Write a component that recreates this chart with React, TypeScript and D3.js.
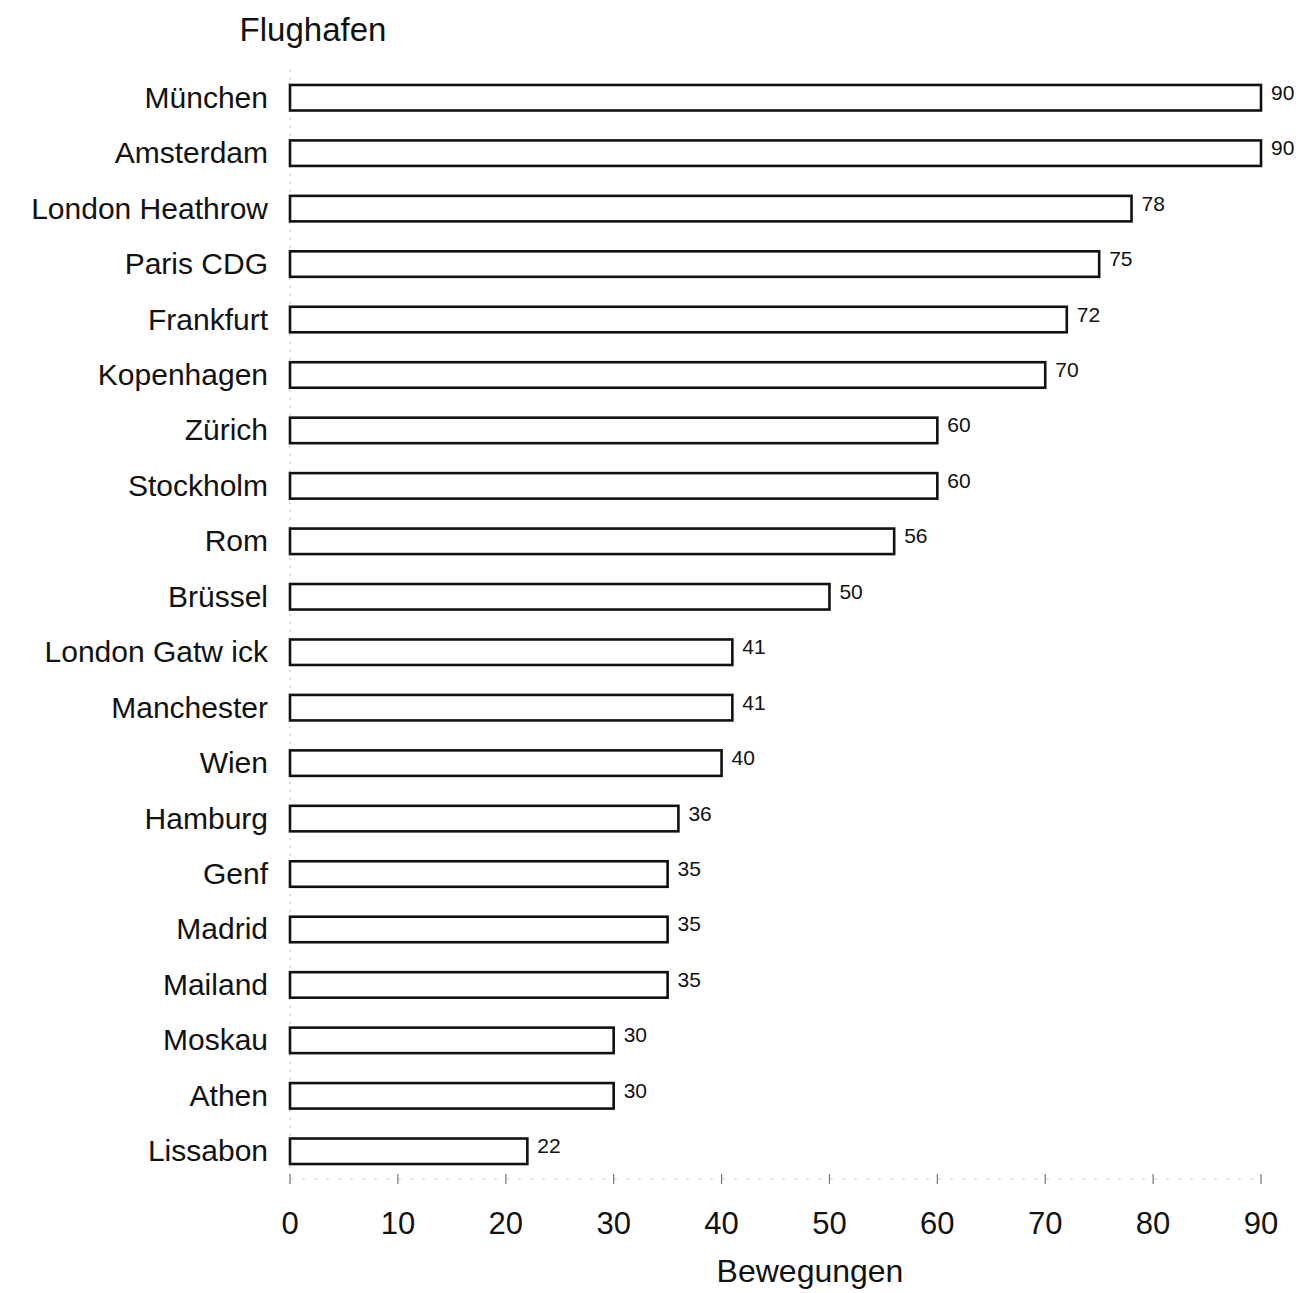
import { useEffect, useRef } from 'react';
import * as d3 from 'd3';

const airports = [
  'München', 'Amsterdam', 'London Heathrow', 'Paris CDG', 'Frankfurt', 'Kopenhagen',
  'Zürich', 'Stockholm', 'Rom', 'Brüssel', 'London Gatw ick', 'Manchester', 'Wien',
  'Hamburg', 'Genf', 'Madrid', 'Mailand', 'Moskau', 'Athen', 'Lissabon',
];
const movements = [90, 90, 78, 75, 72, 70, 60, 60, 56, 50, 41, 41, 40, 36, 35, 35, 35, 30, 30, 22];
const xTicks = [0, 10, 20, 30, 40, 50, 60, 70, 80, 90];

function App() {
  const svgRef = useRef<SVGSVGElement>(null);

  useEffect(() => {
    if (!svgRef.current) return;
    const svg = d3.select(svgRef.current);
    svg.selectAll('*').remove();

    const width = 1303;
    const height = 1293;
    const font = '"Liberation Sans", Arial, sans-serif';

    const x = d3.scaleLinear().domain([0, 90]).range([290, 1261]);
    const y = d3.scaleBand<string>()
      .domain(airports)
      .range([70, 1179])
      .paddingInner(0.54)
      .paddingOuter(0.27);

    svg.attr('width', width).attr('height', height).attr('viewBox', `0 0 ${width} ${height}`);
    svg.append('rect').attr('width', width).attr('height', height).attr('fill', '#fff');

    // faint left axis
    svg.append('line')
      .attr('x1', x(0)).attr('x2', x(0))
      .attr('y1', 70).attr('y2', 1186)
      .attr('stroke', '#bbb').attr('stroke-width', 1)
      .attr('stroke-dasharray', '2 6');

    // faint bottom axis
    const axisY = 1179;
    svg.append('line')
      .attr('x1', x(0)).attr('x2', x(90))
      .attr('y1', axisY).attr('y2', axisY)
      .attr('stroke', '#ccc').attr('stroke-width', 1)
      .attr('stroke-dasharray', '3 9');

    const ticks = svg.append('g');
    ticks.selectAll('line')
      .data(xTicks)
      .enter()
      .append('line')
      .attr('x1', d => x(d)).attr('x2', d => x(d))
      .attr('y1', axisY - 5).attr('y2', axisY + 5)
      .attr('stroke', '#777').attr('stroke-width', 1.2);

    ticks.selectAll('text')
      .data(xTicks)
      .enter()
      .append('text')
      .attr('x', d => x(d))
      .attr('y', 1234)
      .attr('text-anchor', 'middle')
      .attr('font-family', font)
      .attr('font-size', 31)
      .attr('fill', '#111')
      .text(d => d);

    svg.append('text')
      .attr('x', 810).attr('y', 1282)
      .attr('text-anchor', 'middle')
      .attr('font-family', font)
      .attr('font-size', 32)
      .attr('fill', '#111')
      .text('Bewegungen');

    svg.append('text')
      .attr('x', 313).attr('y', 41)
      .attr('text-anchor', 'middle')
      .attr('font-family', font)
      .attr('font-size', 33)
      .attr('fill', '#111')
      .text('Flughafen');

    const rows = svg.selectAll('.row')
      .data(airports.map((name, i) => ({ name, value: movements[i] })))
      .enter()
      .append('g')
      .attr('class', 'row');

    rows.append('rect')
      .attr('x', x(0))
      .attr('y', d => y(d.name)!)
      .attr('width', d => x(d.value) - x(0))
      .attr('height', y.bandwidth())
      .attr('fill', '#fff')
      .attr('stroke', '#111')
      .attr('stroke-width', 2.6);

    rows.append('text')
      .attr('x', 268)
      .attr('y', d => y(d.name)! + y.bandwidth() / 2 + 10)
      .attr('text-anchor', 'end')
      .attr('font-family', font)
      .attr('font-size', 30)
      .attr('fill', '#111')
      .text(d => d.name);

    rows.append('text')
      .attr('x', d => x(d.value) + 10)
      .attr('y', d => y(d.name)! + y.bandwidth() / 2 + 2)
      .attr('font-family', font)
      .attr('font-size', 21)
      .attr('fill', '#111')
      .text(d => d.value);
  }, []);

  return <svg ref={svgRef} style={{ display: 'block', position: 'absolute', top: 0, left: 0 }} />;
}

export default App;
